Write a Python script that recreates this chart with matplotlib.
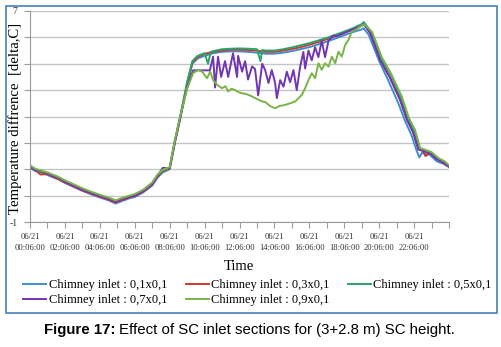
import matplotlib.pyplot as plt
from matplotlib.patches import Rectangle

# time in hours from 06/21 00:06:00
hour_ticks = list(range(0, 25))
hour_labels = ["06/21\n%02d:06:00" % h if h % 2 == 0 and h < 24 else "" for h in hour_ticks]

# Chimney inlet 0,1x0,1
t_01 = [0, 0.3, 0.6, 1.0, 1.3, 1.6, 2.0, 2.5, 3.0, 3.5, 4.0, 4.5, 4.9, 5.3, 5.7, 6.0, 6.5, 7.0, 7.3,
        7.6, 8.0, 8.3, 8.6, 9.0, 9.3, 9.6, 10.0, 10.5, 11.0, 11.5, 12.0, 12.5, 13.0, 13.5, 14.0, 14.5,
        15.0, 15.5, 16.0, 16.5, 17.0, 17.5, 18.0, 18.5, 19.0, 19.1, 19.4, 20.0, 20.5, 21.1, 21.5,
        21.85, 22.15, 22.3, 22.45, 22.9, 23.3, 23.7, 24.0]
v_01 = [1.05, 0.93, 0.88, 0.78, 0.7, 0.62, 0.48, 0.33, 0.18, 0.05, -0.07, -0.18, -0.3, -0.2, -0.1,
        -0.05, 0.13, 0.38, 0.68, 0.88, 1.0, 2.0, 2.9, 4.2, 5.0, 5.2, 5.3, 5.4, 5.45, 5.47, 5.47, 5.45,
        5.42, 5.38, 5.38, 5.42, 5.48, 5.55, 5.63, 5.73, 5.84, 5.96, 6.08, 6.2, 6.3, 6.35, 6.1, 5.1,
        4.4, 3.5, 2.8, 2.3, 1.7, 1.45, 1.62, 1.55, 1.3, 1.2, 1.08]

# Chimney inlet 0,3x0,1
t_03 = [0, 0.3, 0.6, 1.0, 1.3, 1.6, 2.0, 2.5, 3.0, 3.5, 4.0, 4.5, 4.9, 5.3, 5.7, 6.0, 6.5, 7.0, 7.3,
        7.6, 8.0, 8.3, 8.6, 9.0, 9.3, 9.6, 10.0, 10.5, 11.0, 11.5, 12.0, 12.5, 13.0, 13.5, 14.0, 14.5,
        15.0, 15.5, 16.0, 16.5, 17.0, 17.5, 18.0, 18.5, 19.0, 19.15, 19.5, 20.05, 20.6, 21.2, 21.6,
        21.95, 22.25, 22.5, 22.65, 22.9, 23.3, 23.65, 24.0]
v_03 = [1.08, 0.98, 0.8, 0.82, 0.72, 0.64, 0.5, 0.35, 0.2, 0.08, -0.04, -0.15, -0.26, -0.16, -0.07,
        -0.02, 0.16, 0.42, 0.72, 0.92, 1.03, 2.05, 2.95, 4.25, 5.05, 5.25, 5.38, 5.45, 5.5, 5.53, 5.53,
        5.52, 5.5, 5.45, 5.45, 5.5, 5.56, 5.63, 5.72, 5.82, 5.93, 6.05, 6.17, 6.3, 6.45, 6.5, 6.15,
        5.15, 4.5, 3.63, 2.87, 2.4, 1.75, 1.7, 1.5, 1.62, 1.4, 1.25, 1.1]

# Chimney inlet 0,5x0,1
t_05 = [0, 0.3, 0.6, 1.0, 1.3, 1.6, 2.0, 2.5, 3.0, 3.5, 4.0, 4.5, 4.9, 5.3, 5.7, 6.0, 6.5, 7.0, 7.3,
        7.6, 8.0, 8.3, 8.6, 9.0, 9.3, 9.6, 10.0, 10.2, 10.35, 10.5, 11.0, 11.5, 12.0, 12.5, 13.0,
        13.2, 13.3, 13.5, 14.0, 14.5, 15.0, 15.5, 16.0, 16.5, 17.0, 17.5, 18.0, 18.5, 19.0, 19.12,
        19.55, 20.1, 20.7, 21.25, 21.65, 22.0, 22.3, 22.55, 22.95, 23.35, 23.7, 24.0]
v_05 = [1.12, 1.0, 0.92, 0.85, 0.76, 0.68, 0.55, 0.4, 0.25, 0.12, 0.0, -0.1, -0.2, -0.1, -0.02,
        0.03, 0.2, 0.46, 0.76, 0.95, 1.05, 2.1, 3.0, 4.3, 5.1, 5.3, 5.4, 5.0, 5.45, 5.48, 5.55, 5.57,
        5.58, 5.57, 5.55, 5.1, 5.52, 5.5, 5.5, 5.55, 5.62, 5.7, 5.78, 5.88, 5.98, 6.1, 6.22, 6.35,
        6.5, 6.58, 6.2, 5.2, 4.55, 3.7, 2.9, 2.45, 1.8, 1.72, 1.65, 1.38, 1.28, 1.12]

# Chimney inlet 0,7x0,1
t_07 = [0, 0.3, 0.6, 1.0, 1.3, 1.6, 2.0, 2.5, 3.0, 3.5, 4.0, 4.5, 4.9, 5.3, 5.7, 6.0, 6.5, 7.0, 7.3,
        7.6, 8.0, 8.3, 8.6, 9.0, 9.34, 9.8, 10.3, 10.49, 10.6, 10.77, 10.95, 11.17, 11.35, 11.63,
        11.86, 11.92, 12.15, 12.32, 12.49, 12.72, 12.89, 13.07, 13.3, 13.47, 13.66, 13.85, 14.04,
        14.14, 14.33, 14.52, 14.71, 14.9, 15.09, 15.28, 15.47, 15.66, 15.76, 15.95, 16.14, 16.33,
        16.52, 16.71, 16.9, 17.1, 17.38, 17.6, 18.0, 18.5, 19.0, 19.12, 19.5, 20.05, 20.6, 21.2,
        21.6, 21.95, 22.25, 22.5, 22.9, 23.3, 23.65, 24.0]
v_07 = [1.1, 0.97, 0.95, 0.84, 0.74, 0.7, 0.52, 0.38, 0.22, 0.1, -0.02, -0.12, -0.23, -0.13, -0.05,
        0.0, 0.18, 0.44, 0.74, 1.05, 1.04, 2.05, 2.95, 4.1, 4.75, 4.75, 4.75, 5.27, 4.1, 5.27, 4.5,
        5.1, 4.5, 5.4, 4.5, 5.3, 4.7, 5.1, 4.4, 4.9, 4.8, 3.8, 5.0, 4.76, 4.27, 4.76, 4.27, 3.7, 4.38,
        4.13, 4.7, 4.3, 4.76, 4.0, 4.88, 5.45, 4.82, 5.5, 5.13, 5.63, 5.25, 5.88, 5.25, 5.88, 6.07,
        6.05, 6.17, 6.3, 6.45, 6.5, 6.15, 5.15, 4.5, 3.63, 2.87, 2.4, 1.75, 1.7, 1.6, 1.38, 1.27, 1.1]

# Chimney inlet 0,9x0,1
t_09 = [0, 0.3, 0.6, 1.0, 1.3, 1.6, 2.0, 2.5, 3.0, 3.5, 4.0, 4.5, 4.9, 5.3, 5.7, 6.0, 6.5, 7.0, 7.3,
        7.6, 8.0, 8.3, 8.6, 9.0, 9.34, 9.63, 9.86, 10.14, 10.32, 10.49, 10.72, 11.0, 11.2, 11.35,
        11.55, 11.75, 11.95, 12.15, 12.4, 12.72, 12.95, 13.3, 13.47, 13.75, 14.04, 14.3, 14.61,
        14.9, 15.19, 15.57, 15.76, 15.95, 16.14, 16.33, 16.52, 16.71, 16.9, 17.1, 17.29, 17.48,
        17.67, 17.86, 18.05, 18.24, 18.44, 18.7, 19.0, 19.15, 19.6, 20.15, 20.7, 21.3, 21.7, 22.05,
        22.35, 22.6, 23.0, 23.4, 23.75, 24.0]
v_09 = [1.15, 1.02, 0.96, 0.88, 0.8, 0.72, 0.58, 0.43, 0.28, 0.15, 0.03, -0.07, -0.18, -0.08, 0.0,
        0.06, 0.23, 0.5, 0.8, 0.98, 1.08, 2.1, 3.0, 4.05, 4.64, 4.77, 4.7, 4.45, 4.7, 4.38, 4.2, 4.07,
        4.15, 3.95, 4.05, 4.0, 3.92, 3.88, 3.85, 3.76, 3.68, 3.57, 3.55, 3.4, 3.31, 3.4, 3.44, 3.5,
        3.57, 3.82, 4.07, 4.38, 4.64, 4.45, 5.02, 4.77, 5.02, 4.89, 5.27, 5.02, 5.46, 5.27, 5.71, 5.9,
        6.22, 6.3, 6.45, 6.5, 6.2, 5.25, 4.6, 3.75, 2.95, 2.5, 1.8, 1.75, 1.65, 1.42, 1.3, 1.15]

series = [
    ("Chimney inlet : 0,1x0,1", t_01, v_01, "#3a8fd4"),
    ("Chimney inlet : 0,3x0,1", t_03, v_03, "#d8342e"),
    ("Chimney inlet : 0,5x0,1", t_05, v_05, "#27a468"),
    ("Chimney inlet : 0,7x0,1", t_07, v_07, "#7236b0"),
    ("Chimney inlet : 0,9x0,1", t_09, v_09, "#7ab449"),
]

W, H = 502, 347
fig = plt.figure(figsize=(W / 100, H / 100), dpi=100)
ax = fig.add_axes([30 / W, 1 - 222 / H, (449 - 30) / W, (222 - 11) / H])

lines = {}
for name, t, v, c in series:
    lines[name], = ax.plot(t, v, color=c, lw=1.4, label=name)

ax.set_xlim(0, 24)
ax.set_ylim(-1, 7)
ax.set_yticks(range(-1, 8))
ax.set_yticklabels(["-1", "", "", "", "", "", "", "", "7"])
ax.set_xticks(hour_ticks)
ax.set_xticklabels(hour_labels, linespacing=1.55)
ax.grid(axis="y", color="#c4c4c4", lw=1.0)
ax.set_axisbelow(True)
for s in ["top", "right"]:
    ax.spines[s].set_visible(False)
ax.spines["left"].set_color("#9a9a9a")
ax.spines["bottom"].set_color("#9a9a9a")
ax.tick_params(axis="x", length=4, color="#9a9a9a", labelsize=6.2, labelcolor="#333333", pad=4)
ax.tick_params(axis="y", length=4, color="#9a9a9a", labelsize=7, labelcolor="#333333", pad=5)
for lab in ax.get_xticklabels() + ax.get_yticklabels():
    lab.set_fontfamily("Liberation Serif")

fig.text(15 / W, 1 - 118 / H, "Temperature diffrence  [delta,C]", rotation=90, ha="center",
         va="center", fontsize=10.6, family="Liberation Serif")
fig.text(239 / W, 1 - 267 / H, "Time", ha="center", va="center", fontsize=10.5,
         family="Liberation Serif")

order = ["Chimney inlet : 0,1x0,1", "Chimney inlet : 0,7x0,1", "Chimney inlet : 0,3x0,1",
         "Chimney inlet : 0,9x0,1", "Chimney inlet : 0,5x0,1"]
fig.legend([lines[n] for n in order], order, ncol=3, loc="upper left",
           bbox_to_anchor=(17 / W, 1 - 273 / H), frameon=False, borderpad=0,
           handlelength=1.85, handletextpad=0.2, columnspacing=1.45, labelspacing=0.25,
           prop={"family": "Liberation Serif", "size": 9.0})

fig.patches.append(Rectangle((5.5 / W, 1 - 313 / H), 491.5 / W, 307.5 / H, transform=fig.transFigure,
                             fill=False, edgecolor="#4a7ebb", lw=1.2))

bold = fig.text(44 / W, 1 - 330 / H, "Figure 17:", ha="left", va="center", fontsize=10.8,
                weight="bold", family="Liberation Sans")
bb = bold.get_window_extent(renderer=fig.canvas.get_renderer())
fig.text(bb.x1 / W + 4 / W, 1 - 330 / H, "Effect of SC inlet sections for (3+2.8 m) SC height.",
         ha="left", va="center", fontsize=10.8, family="Liberation Sans")

fig.savefig("out.png", dpi=100)
